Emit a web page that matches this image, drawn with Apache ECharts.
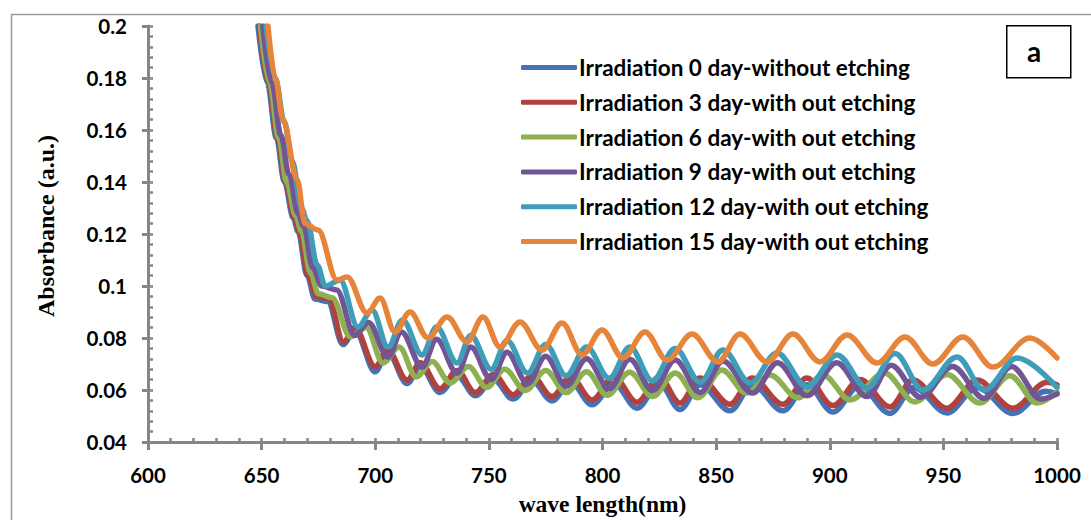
<!DOCTYPE html>
<html><head><meta charset="utf-8">
<script src="https://cdn.jsdelivr.net/npm/echarts@6/dist/echarts.min.js"></script>
<style>html,body{margin:0;padding:0;background:#fff}#c{width:1091px;height:520px}</style>
</head><body><div id="c"></div>
<script>
// Series names (legend)
const seriesNames = [
  'Irradiation 0 day-without etching',
  'Irradiation 3 day-with out etching',
  'Irradiation 6 day-with out etching',
  'Irradiation 9 day-with out etching',
  'Irradiation 12 day-with out etching',
  'Irradiation 15 day-with out etching'
];
// [wavelength (nm), absorbance (a.u.)]
const day0 = [[648.4,0.2],[652.5,0.178],[656.5,0.157],[660,0.14],[664,0.126],[666,0.121],[670,0.104],[673.5,0.095],[679,0.094],[685.8,0.0775],[691,0.083],[700,0.067],[705.4,0.0745],[714,0.0625],[719.8,0.069],[728.5,0.059],[736,0.0655],[744,0.0578],[752,0.064],[760.6,0.0565],[769,0.0635],[777.8,0.0558],[786,0.063],[795.4,0.0543],[805,0.0625],[815.2,0.053],[825,0.0625],[834.1,0.0525],[843,0.062],[856.1,0.052],[866,0.062],[879.4,0.052],[890,0.062],[901.4,0.0515],[913,0.0615],[926.5,0.051],[937,0.061],[951.6,0.0512],[965,0.061],[980.6,0.051],[995,0.0595],[1000,0.0585]];
const day3 = [[649,0.2],[653,0.178],[657,0.157],[660.5,0.14],[664.5,0.126],[666.5,0.121],[670.5,0.104],[674,0.096],[679.5,0.095],[686,0.0785],[691,0.084],[700,0.069],[705.4,0.0755],[714,0.0638],[719.8,0.0705],[728.5,0.0605],[736,0.0675],[744,0.059],[752,0.066],[760.6,0.0582],[769,0.0655],[777.8,0.0575],[786,0.065],[795.4,0.0562],[805,0.065],[815.2,0.0553],[825,0.065],[834.1,0.055],[842.9,0.0646],[856.1,0.0545],[865.8,0.0646],[879.4,0.0545],[889.9,0.0646],[901.4,0.054],[913.3,0.064],[926.5,0.0535],[936.6,0.0638],[951.6,0.053],[964.8,0.0638],[980.6,0.053],[995.6,0.063],[1000,0.062]];
const day6 = [[649.5,0.2],[653.5,0.178],[657.5,0.157],[661,0.14],[665,0.127],[667.5,0.121],[671.5,0.105],[675,0.097],[681,0.0955],[689,0.0804],[696,0.084],[703.4,0.0704],[710.5,0.0765],[718,0.065],[725,0.071],[733,0.0627],[741,0.069],[749,0.061],[757,0.068],[766,0.0598],[775,0.0675],[784,0.059],[793,0.067],[802,0.058],[812,0.0668],[822,0.0575],[832,0.0665],[842,0.057],[852.5,0.0677],[863.4,0.0588],[873.7,0.0658],[886,0.057],[897,0.0658],[909,0.0562],[924,0.0665],[937.5,0.0554],[951.6,0.066],[966,0.055],[979.3,0.0655],[991.2,0.055],[1000,0.0592]];
const day9 = [[650.5,0.2],[654.5,0.178],[658.5,0.158],[662,0.143],[666,0.128],[668.5,0.123],[672.5,0.107],[676.5,0.1],[683,0.0985],[691,0.081],[697,0.086],[705.6,0.0727],[711.5,0.0823],[720.6,0.0688],[727,0.0795],[736,0.0665],[742,0.0765],[751,0.064],[758,0.0745],[767,0.0625],[775,0.073],[784,0.0615],[793,0.072],[803,0.0605],[812,0.0718],[822,0.0598],[832,0.0715],[843,0.059],[853,0.0712],[866,0.0588],[877,0.0705],[890,0.0578],[903,0.0705],[916.4,0.0575],[927,0.0695],[940,0.0572],[954,0.069],[968,0.0568],[980,0.069],[993,0.0565],[1000,0.0585]];
const day12 = [[652,0.2],[656,0.18],[660,0.163],[663.5,0.148],[667.5,0.13],[670,0.125],[674.5,0.108],[678,0.1],[684.5,0.1023],[692.4,0.0842],[698.6,0.0908],[705.6,0.0765],[712,0.0869],[720.6,0.0735],[727,0.0842],[736,0.0704],[742,0.081],[751,0.068],[758,0.079],[767,0.0665],[775,0.0775],[784,0.0655],[793,0.0765],[803,0.0645],[812,0.0765],[822,0.0635],[832,0.076],[843,0.063],[853,0.0754],[865,0.0627],[876.8,0.0742],[890,0.0612],[903.2,0.0735],[916.4,0.0608],[928.7,0.074],[941,0.06],[956,0.0727],[968,0.06],[982.4,0.0723],[1000,0.061]];
const day15 = [[652.8,0.2],[656,0.18],[659.4,0.164],[665.6,0.141],[669.1,0.124],[674.8,0.1215],[683.2,0.1023],[687.6,0.1035],[696.4,0.0896],[702.1,0.0954],[708.7,0.0823],[715.3,0.09],[723.2,0.08],[731.6,0.0881],[740.4,0.0785],[747.4,0.0881],[754.9,0.0765],[763.7,0.0862],[773.4,0.0754],[782.2,0.0858],[791,0.0735],[799.8,0.0831],[809,0.0723],[818.7,0.0823],[828.4,0.0715],[839.4,0.0815],[850.8,0.0708],[860.5,0.0815],[872.4,0.0708],[883.8,0.0815],[895.7,0.0708],[907.6,0.0812],[920.8,0.0704],[933.1,0.0804],[945.4,0.07],[958.6,0.0804],[971.8,0.0688],[988.1,0.08],[1000,0.0723]];
const seriesData = [day0, day3, day6, day9, day12, day15];
const colors = ['#4472B4','#B0413E','#8DB050','#715594','#3F9DBA','#E6843A'];

const axisGrey = '#868686';
const tickFont = {fontFamily:'Lato, "Open Sans", sans-serif', fontWeight:'bold', fontSize:20.5, color:'#000'};

const chart = echarts.init(document.getElementById('c'), null, {renderer:'svg'});
chart.setOption({
  animation:false,
  backgroundColor:'#fff',
  grid:{left:148, right:34, top:26, bottom:78, containLabel:false, outerBoundsMode:'none'},
  xAxis:[
    {type:'value', min:600, max:1000, interval:50, position:'bottom',
     name:'wave length(nm)', nameLocation:'middle', nameGap:50,
     nameTextStyle:{fontFamily:'"Liberation Serif", "Times New Roman", serif', fontWeight:'bold', fontSize:23.5, lineHeight:24, color:'#000'},
     axisLine:{show:true, lineStyle:{color:axisGrey, width:3}},
     axisTick:{show:true, inside:false, length:8, lineStyle:{color:axisGrey, width:3}},
     axisLabel:Object.assign({margin:22, formatter:v=>String(v)}, tickFont),
     splitLine:{show:false}},
    {type:'value', min:600, max:1000, interval:10, position:'bottom',
     axisLine:{show:false}, axisLabel:{show:false}, splitLine:{show:false},
     axisTick:{show:true, inside:true, length:4, lineStyle:{color:axisGrey, width:2.5}}}
  ],
  yAxis:[
    {type:'value', min:0.04, max:0.2, interval:0.02, position:'left',
     name:'Absorbance (a.u.)', nameLocation:'middle', nameGap:90, nameRotate:90,
     nameTextStyle:{fontFamily:'"Liberation Serif", "Times New Roman", serif', fontWeight:'bold', fontSize:24, color:'#000', padding:[0,0,0,16]},
     axisLine:{show:true, lineStyle:{color:axisGrey, width:3}},
     axisTick:{show:true, inside:false, length:6, lineStyle:{color:axisGrey, width:3}},
     axisLabel:Object.assign({margin:21}, tickFont),
     splitLine:{show:false}},
    {type:'value', min:0.04, max:0.2, interval:0.004, position:'left',
     axisLine:{show:false}, axisLabel:{show:false}, splitLine:{show:false},
     axisTick:{show:true, inside:true, length:5, lineStyle:{color:axisGrey, width:2.5}}}
  ],
  legend:{
    orient:'vertical', left:521, top:56, padding:0, itemWidth:56, itemHeight:5, itemGap:11.8,
    icon:'roundRect',
    data:seriesNames,
    textStyle:{fontFamily:'Lato, "Open Sans", sans-serif', fontWeight:'bold', fontSize:22.5, lineHeight:20, color:'#000', padding:[0,0,0,-3]}
  },
  graphic:[
    {type:'rect', left:9, top:12, z:-10, silent:true,
     shape:{width:1100, height:530}, style:{fill:'none', stroke:'#9a9a9a', lineWidth:1.5}},
    {type:'rect', left:1006, top:25, z:10,
     shape:{width:64, height:52}, style:{fill:'#fff', stroke:'#000', lineWidth:1.5}},
    {type:'text', left:1027, top:37, z:11,
     style:{text:'a', fontFamily:'Lato, "Open Sans", sans-serif', fontWeight:'bold', fontSize:28, fill:'#000'}}
  ],
  series:seriesData.map((d,i)=>({
    name:seriesNames[i], type:'line', data:d, xAxisIndex:0, yAxisIndex:0,
    showSymbol:false, symbol:'none', smooth:0.35, smoothMonotone:'x', clip:true,
    lineStyle:{color:colors[i], width:5.5, cap:'round', join:'round'},
    itemStyle:{color:colors[i]}, z:2+i
  }))
});
</script></body></html>
